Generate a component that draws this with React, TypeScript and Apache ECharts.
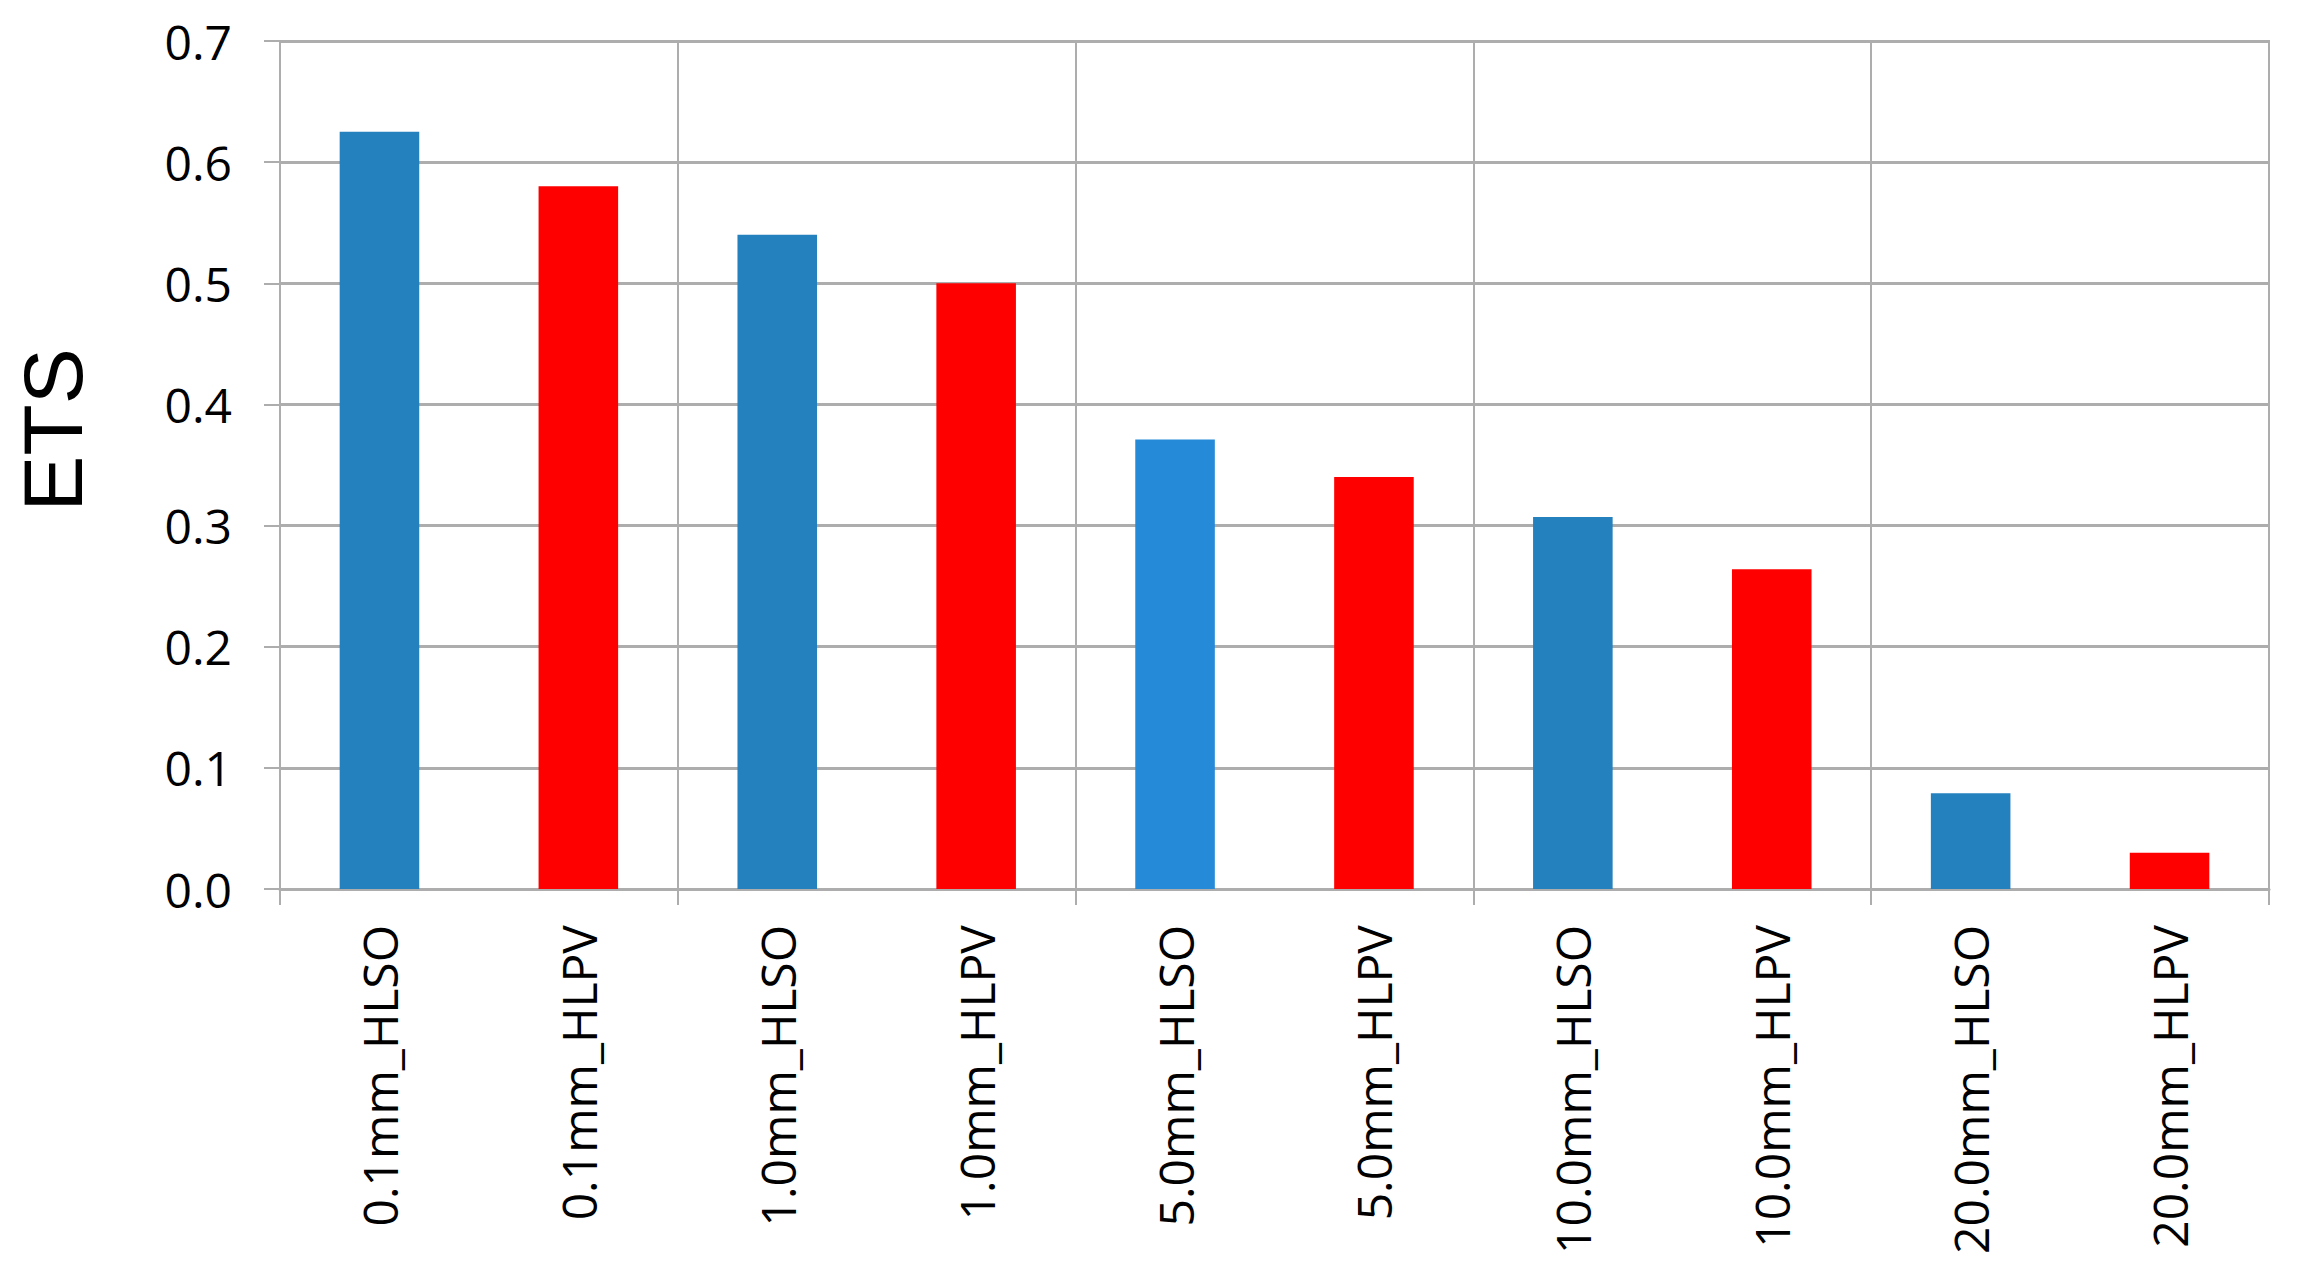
import React, { useEffect, useRef } from "react";
import * as echarts from "echarts";

const categories = [
  "0.1mm_HLSO",
  "0.1mm_HLPV",
  "1.0mm_HLSO",
  "1.0mm_HLPV",
  "5.0mm_HLSO",
  "5.0mm_HLPV",
  "10.0mm_HLSO",
  "10.0mm_HLPV",
  "20.0mm_HLSO",
  "20.0mm_HLPV",
];
const etsValues = [0.625, 0.58, 0.54, 0.5, 0.371, 0.34, 0.307, 0.264, 0.079, 0.03];
const barColors = [
  "#2580BE",
  "#FF0000",
  "#2580BE",
  "#FF0000",
  "#258AD8",
  "#FF0000",
  "#2580BE",
  "#FF0000",
  "#2580BE",
  "#FF0000",
];
const yTicks = [0, 0.1, 0.2, 0.3, 0.4, 0.5, 0.6, 0.7];
const yAxisTitle = "ETS";

export default function App() {
  const ref = useRef<HTMLDivElement>(null);
  useEffect(() => {
    if (!ref.current) return;
    const chart = echarts.init(ref.current, undefined, { renderer: "svg" });
    const grid = "#ADADAD";
    const everyOther = (index: number) => index % 2 === 0;
    chart.setOption({
      animation: false,
      backgroundColor: "#FFFFFF",
      grid: {
        left: 280,
        right: 28,
        top: 41,
        bottom: 395,
        containLabel: false,
        show: true,
        borderColor: grid,
        borderWidth: 2,
      },
      graphic: [
        {
          type: "text",
          x: 53,
          y: 430,
          rotation: Math.PI / 2,
          style: {
            text: yAxisTitle,
            font: "84px 'Liberation Sans', Arial, sans-serif",
            fill: "#000",
            align: "center",
            verticalAlign: "middle",
          },
        },
      ],
      xAxis: {
        type: "category",
        data: categories,
        axisLine: { show: true, lineStyle: { color: grid, width: 3 } },
        axisTick: { show: true, interval: everyOther, length: 16, lineStyle: { color: grid, width: 2 } },
        splitLine: { show: true, interval: everyOther, lineStyle: { color: grid, width: 2 } },
        axisLabel: {
          interval: 0,
          rotate: 90,
          margin: 36,
          color: "#000",
          fontSize: 48,
          fontFamily: "'Open Sans', sans-serif",
        },
      },
      yAxis: {
        type: "value",
        min: yTicks[0],
        max: yTicks[yTicks.length - 1],
        interval: 0.1,
        axisLine: { show: true, lineStyle: { color: grid, width: 2 } },
        axisTick: { show: true, length: 16, lineStyle: { color: grid, width: 2 } },
        splitLine: { show: true, lineStyle: { color: grid, width: 3 } },
        axisLabel: {
          margin: 48,
          color: "#000",
          fontSize: 48,
          fontFamily: "'Open Sans', sans-serif",
          formatter: (v: number) => v.toFixed(1),
        },
      },
      series: [
        {
          type: "bar",
          barWidth: "40%",
          data: etsValues.map((v, i) => ({ value: v, itemStyle: { color: barColors[i] } })),
        },
      ],
    });
    return () => chart.dispose();
  }, []);
  return (
    <div
      ref={ref}
      style={{ position: "fixed", left: 0, top: 0, width: 2297, height: 1284, background: "#fff" }}
    />
  );
}
